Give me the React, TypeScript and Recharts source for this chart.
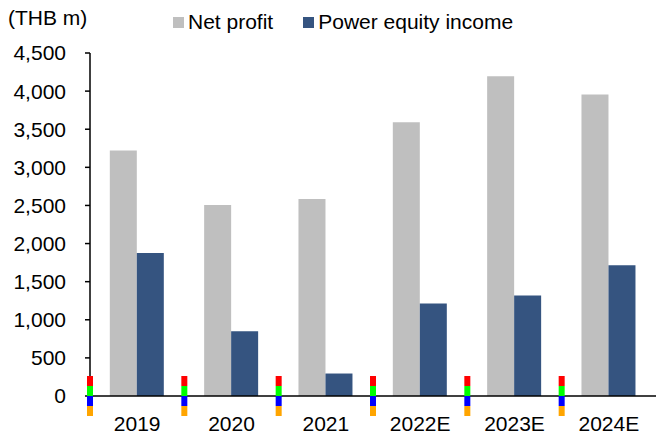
import { BarChart, Bar, XAxis, YAxis, Legend } from "recharts";

const years = ["2019", "2020", "2021", "2022E", "2023E", "2024E"];
const netProfit = [3220, 2505, 2585, 3590, 4195, 3955];
const powerEquityIncome = [1875, 850, 295, 1215, 1320, 1715];
const yTicks = [0, 500, 1000, 1500, 2000, 2500, 3000, 3500, 4000, 4500];

const data = years.map((year, i) => ({
  year,
  netProfit: netProfit[i],
  powerEquity: powerEquityIncome[i],
}));

const FONT = "'Liberation Sans', Arial, sans-serif";
const CHART_W = 656;
const Y_AXIS_W = 90;
const HALF_BAND = (CHART_W - Y_AXIS_W) / years.length / 2;

function YearTick(props: any) {
  const { x, y, payload } = props;
  const cx = Number(x);
  const cy = Number(y);
  return (
    <g>
      <rect x={cx - HALF_BAND - 3} y={cy - 20} width={6} height={10} fill="red" />
      <rect x={cx - HALF_BAND - 3} y={cy - 10} width={6} height={10} fill="lime" />
      <rect x={cx - HALF_BAND - 3} y={cy} width={6} height={10} fill="blue" />
      <rect x={cx - HALF_BAND - 3} y={cy + 10} width={6} height={10} fill="orange" />
      <text x={cx} y={cy + 35} textAnchor="middle" fontSize={21} fontFamily={FONT} fill="#000">
        {payload.value}
      </text>
    </g>
  );
}

function LegendContent(props: any) {
  const { payload = [] } = props;
  return (
    <div style={{ display: "flex", fontFamily: FONT, fontSize: 21, color: "#000", lineHeight: "24px" }}>
      {payload.map((entry: any, i: number) => (
        <div key={entry.value} style={{ display: "flex", alignItems: "center", marginRight: i === 0 ? 30 : 0 }}>
          <span style={{ width: 11, height: 11, background: entry.color, marginRight: 4, display: "inline-block" }} />
          <span>{entry.value}</span>
        </div>
      ))}
    </div>
  );
}

export default function App() {
  return (
    <div style={{ position: "absolute", left: 0, top: 0, width: 656, height: 437, background: "#fff" }}>
      <div style={{ position: "absolute", left: 8, top: 7, fontFamily: FONT, fontSize: 21, lineHeight: 1, color: "#000" }}>
        (THB m)
      </div>
      <BarChart
        width={656}
        height={437}
        data={data}
        margin={{ top: 53, right: 0, bottom: 0, left: 0 }}
        barCategoryGap="21%"
        barGap={0}
      >
        <XAxis
          dataKey="year"
          height={41}
          tickLine={false}
          tickSize={0}
          tickMargin={0}
          axisLine={{ stroke: "#000", strokeWidth: 1.5 }}
          tick={(p: any) => <YearTick {...p} />}
          interval={0}
        />
        <YAxis
          width={Y_AXIS_W}
          domain={[0, 4500]}
          ticks={yTicks}
          tickSize={5}
          tickMargin={19}
          tickLine={{ stroke: "#000", strokeWidth: 1.5 }}
          axisLine={{ stroke: "#000", strokeWidth: 1.5 }}
          tick={{ fill: "#000", fontSize: 21, fontFamily: FONT }}
          tickFormatter={(v) => v.toLocaleString("en-US")}
        />
        <Legend
          layout="horizontal"
          verticalAlign="middle"
          align="center"
          content={<LegendContent />}
          wrapperStyle={{ top: 10, left: 173, width: "auto" }}
        />
        <Bar dataKey="netProfit" name="Net profit" fill="#BFBFBF" isAnimationActive={false} />
        <Bar dataKey="powerEquity" name="Power equity income" fill="#355480" isAnimationActive={false} />
      </BarChart>
    </div>
  );
}
